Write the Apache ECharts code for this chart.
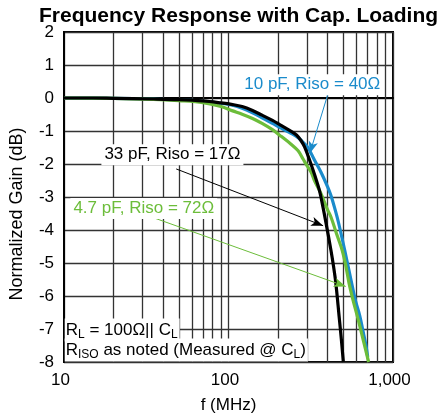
<!DOCTYPE html>
<html>
<head>
<meta charset="utf-8">
<script src="https://cdn.jsdelivr.net/npm/echarts@6/dist/echarts.min.js"></script>
<style>
  html, body { margin: 0; padding: 0; background: #fff; }
  #chart { width: 440px; height: 419px; }
</style>
</head>
<body>
<div id="chart"></div>
<script>
// Frequency response of the amplifier driving capacitive loads
const FONT = 'Liberation Sans, Arial, sans-serif';

// 33 pF, Riso = 17 ohm
const blackFreq = [10, 15, 20, 35, 50, 70, 90, 106, 121, 140, 160, 185, 210, 235, 259, 275, 290, 311, 335, 357, 375, 392, 419, 435, 449, 470, 485, 499];
const blackGain = [0, 0, -0.01, -0.03, -0.05, -0.09, -0.15, -0.2, -0.26, -0.38, -0.52, -0.68, -0.84, -0.98, -1.12, -1.28, -1.48, -1.88, -2.35, -2.8, -3.3, -3.8, -4.6, -5.1, -5.6, -6.6, -7.3, -8];

// 10 pF, Riso = 40 ohm
const blueFreq = [10, 20, 35, 50, 70, 90, 106, 121, 140, 160, 185, 210, 240, 265, 285, 304, 333, 365, 401, 419, 440, 465, 508, 560, 592, 628, 656, 685, 702];
const blueGain = [0, -0.01, -0.03, -0.06, -0.1, -0.16, -0.22, -0.31, -0.45, -0.6, -0.77, -0.92, -1.07, -1.2, -1.35, -1.5, -1.88, -2.25, -2.7, -2.95, -3.3, -3.75, -4.6, -5.6, -6.15, -6.6, -7.05, -7.5, -7.85];

// 4.7 pF, Riso = 72 ohm
const greenFreq = [10, 20, 35, 50, 70, 90, 106, 121, 140, 160, 185, 210, 240, 265, 284, 300, 318, 333, 365, 401, 419, 460, 490, 515, 540, 570, 606, 635, 664, 711];
const greenGain = [0, -0.01, -0.04, -0.08, -0.14, -0.26, -0.39, -0.49, -0.62, -0.77, -0.96, -1.17, -1.4, -1.6, -1.85, -2.05, -2.25, -2.5, -2.9, -3.4, -3.6, -4.2, -4.6, -5.05, -5.6, -6.1, -6.6, -7.0, -7.4, -8];

// Axis ticks
const xTickValues = [10, 100, 1000];
const xTickLabels = ['10', '100', '1,000'];
const xMinorGrid = [20, 30, 40, 50, 60, 70, 80, 90, 200, 300, 400, 500, 600, 700, 800, 900];

const BLACK = '#000000';
const BLUE = '#1a8bcb';
const GREEN = '#6cbd3a';
const GRID = '#333333';

const pairs = (xs, ys) => xs.map((x, i) => [x, ys[i]]);

const chart = echarts.init(document.getElementById('chart'), null, { renderer: 'canvas' });

const lineSeries = (name, xs, ys, color, z) => ({
  name, type: 'line', data: pairs(xs, ys), showSymbol: false, smooth: 0.35,
  lineStyle: { color, width: 3.2 }, z, silent: true, animation: false
});

// a thin pointer line from a caption to its curve
const pointer = (from, to, color) => ({
  type: 'line', data: [], z: 10, silent: true,
  markLine: {
    silent: true, z: 10, animation: false,
    symbol: ['none', 'arrow'], symbolSize: 12,
    label: { show: false },
    lineStyle: { color, width: 1, type: 'solid' },
    itemStyle: { color },
    data: [[{ coord: from, symbol: 'none' }, { coord: to, symbol: 'arrow', symbolSize: [7, 12] }]]
  }
});

const caption = (coord, text, color) => ({
  coord,
  label: { show: true, position: 'inside', formatter: text, color, fontFamily: FONT, fontSize: 17, backgroundColor: '#fff', padding: [2, 3, 2, 3] }
});

const subRich = {
  n: { fontFamily: FONT, fontSize: 17, color: '#000' },
  s: { fontFamily: FONT, fontSize: 12, color: '#000', padding: [9, 0, 0, 0] }
};

chart.setOption({
  animation: false,
  title: {
    text: 'Frequency Response with Cap. Loading',
    left: 34, top: 1,
    textStyle: { fontFamily: FONT, fontSize: 21, fontWeight: 'bold', color: '#000' }
  },
  grid: { left: 59, right: 47, top: 32, bottom: 56, show: true, borderColor: '#000', borderWidth: 2, backgroundColor: 'transparent' },
  xAxis: {
    type: 'log', logBase: 10, min: 10, max: 1000,
    name: 'f (MHz)', nameLocation: 'middle', nameGap: 35,
    nameTextStyle: { fontFamily: FONT, fontSize: 17, color: '#000' },
    axisLine: { lineStyle: { color: '#000', width: 2 } },
    axisTick: { show: false },
    axisLabel: {
      fontFamily: FONT, fontSize: 17, color: '#000', margin: 10, padding: [0, 7, 0, 0],
      formatter: v => { const i = xTickValues.indexOf(Math.round(v)); return i >= 0 ? xTickLabels[i] : ''; }
    },
    splitLine: { show: true, lineStyle: { color: GRID, width: 1.3 } }
  },
  yAxis: {
    type: 'value', min: -8, max: 2, interval: 1,
    name: 'Normalized Gain (dB)', nameLocation: 'middle', nameGap: 38,
    nameTextStyle: { fontFamily: FONT, fontSize: 18, color: '#000', padding: [0, 34, 0, 0] },
    axisLine: { show: true, lineStyle: { color: '#000', width: 2 } },
    axisTick: { show: false },
    axisLabel: { fontFamily: FONT, fontSize: 17, color: '#000', margin: 10 },
    splitLine: { show: true, lineStyle: { color: GRID, width: 1.3 } }
  },
  series: [
    {
      // minor decade grid lines
      type: 'line', data: [], z: 1, silent: true,
      markLine: {
        silent: true, symbol: ['none', 'none'], z: 1, animation: false,
        label: { show: false },
        lineStyle: { color: GRID, width: 1.3, type: 'solid' },
        data: xMinorGrid.map(v => ({ xAxis: v }))
      }
    },
    lineSeries('10 pF, Riso = 40Ω', blueFreq, blueGain, BLUE, 3),
    lineSeries('4.7 pF, Riso = 72Ω', greenFreq, greenGain, GREEN, 4),
    lineSeries('33 pF, Riso = 17Ω', blackFreq, blackGain, BLACK, 5),
    pointer([410, 0.26], [312, -1.68], BLUE),
    pointer([48.1, -2.15], [376, -3.87], BLACK),
    pointer([35.1, -3.63], [516, -5.71], GREEN),
    {
      // captions and test conditions
      type: 'line', data: [], z: 11, silent: true,
      markPoint: {
        silent: true, z: 11, animation: false,
        symbol: 'rect', symbolSize: 0,
        data: [
          caption([323, 0.4], '10 pF, Riso = 40Ω', BLUE),
          caption([45.6, -1.72], '33 pF, Riso = 17Ω', BLACK),
          caption([30.55, -3.35], '4.7 pF, Riso = 72Ω', GREEN),
          { coord: [10.1, -7.03], label: { show: true, position: 'right', distance: 0, formatter: '{n|R}{s|L}{n| = 100Ω|| C}{s|L}', backgroundColor: '#fff', padding: [1, 2, 1, 1], rich: subRich } },
          { coord: [10.1, -7.64], label: { show: true, position: 'right', distance: 0, formatter: '{n|R}{s|ISO}{n| as noted (Measured @ C}{s|L}{n|)}', backgroundColor: '#fff', padding: [1, 2, 1, 1], rich: subRich } }
        ]
      }
    }
  ]
});
</script>
</body>
</html>
